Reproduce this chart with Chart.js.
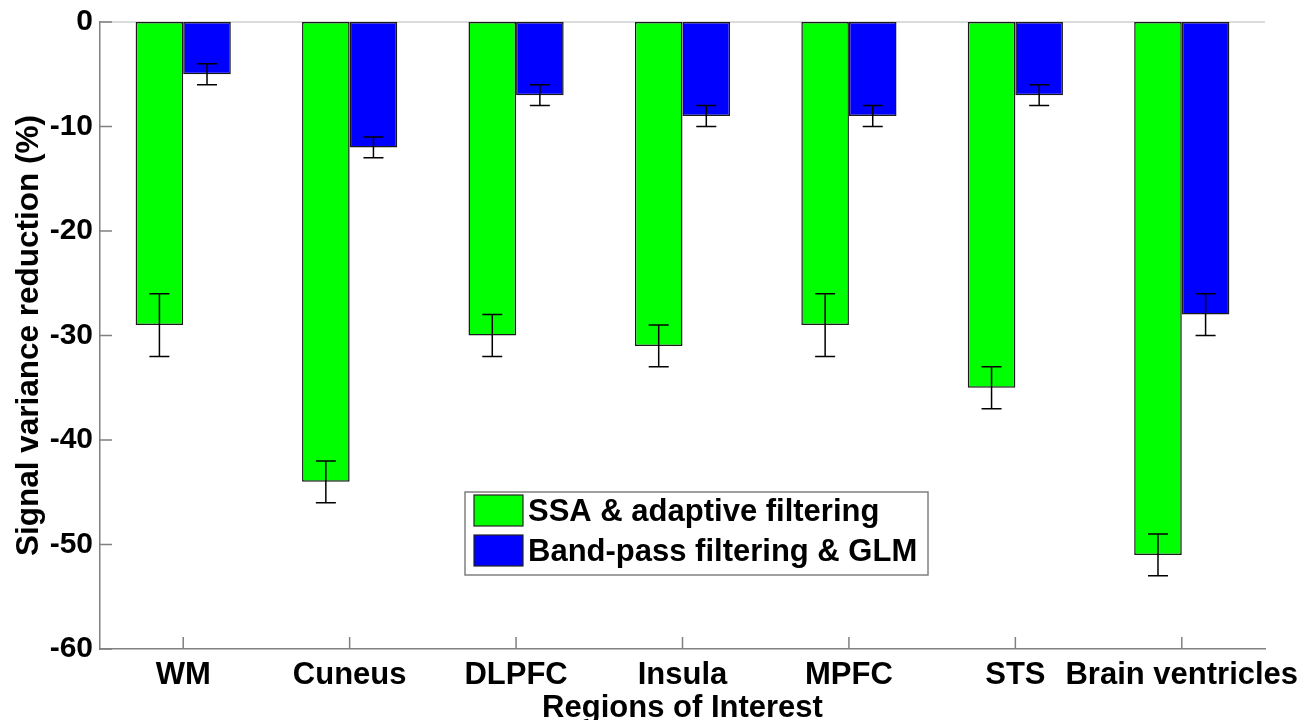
<!DOCTYPE html>
<html>
<head>
<meta charset="utf-8">
<title>Signal variance reduction</title>
<script src="https://cdn.jsdelivr.net/npm/chart.js@4.4.1/dist/chart.umd.min.js"></script>
<style>
  html, body { margin: 0; padding: 0; background: #fff; }
  #wrap { width: 1315px; height: 720px; position: relative; }
</style>
</head>
<body>
<div id="wrap"><canvas id="chart" width="1315" height="720"></canvas></div>
<script>
"use strict";

// data
const regions = ["WM", "Cuneus", "DLPFC", "Insula", "MPFC", "STS", "Brain ventricles"];
const ssaValues = [-29, -44, -30, -31, -29, -35, -51];
const ssaErrors = [3, 2, 2, 2, 3, 2, 2];
const bandValues = [-5, -12, -7, -9, -9, -7, -28];
const bandErrors = [1, 1, 1, 1, 1, 1, 2];
const yTicks = [0, -10, -20, -30, -40, -50, -60];

const FONT = "'Liberation Sans', Arial, sans-serif";
const AXIS_GREY = "#808080";

// error bars drawn at each bar's x through the y scale
const errorBars = {
  id: "errorBars",
  afterDatasetsDraw(chart) {
    const { ctx } = chart;
    const y = chart.scales.y;
    ctx.save();
    ctx.strokeStyle = "#000";
    ctx.lineWidth = 1.5;
    chart.data.datasets.forEach((ds, di) => {
      const meta = chart.getDatasetMeta(di);
      meta.data.forEach((bar, i) => {
        const v = ds.data[i], e = ds.errors[i];
        const y1 = y.getPixelForValue(v + e);
        const y2 = y.getPixelForValue(v - e);
        const cap = 10;
        ctx.beginPath();
        ctx.moveTo(bar.x, y1); ctx.lineTo(bar.x, y2);
        ctx.moveTo(bar.x - cap, y1); ctx.lineTo(bar.x + cap, y1);
        ctx.moveTo(bar.x - cap, y2); ctx.lineTo(bar.x + cap, y2);
        ctx.stroke();
      });
    });
    ctx.restore();
  },
};

// zero baseline + inward tick marks, MATLAB style
const axesDecor = {
  id: "axesDecor",
  beforeDatasetsDraw(chart) {
    const { ctx, chartArea } = chart;
    const x = chart.scales.x, y = chart.scales.y;
    ctx.save();
    const y0 = y.getPixelForValue(0);
    ctx.strokeStyle = "#cfcfcf";
    ctx.lineWidth = 1.5;
    ctx.beginPath();
    ctx.moveTo(chartArea.left, y0); ctx.lineTo(chartArea.right, y0);
    ctx.stroke();

    ctx.strokeStyle = AXIS_GREY;
    ctx.beginPath();
    y.ticks.forEach(t => {
      const py = y.getPixelForValue(t.value);
      ctx.moveTo(chartArea.left, py); ctx.lineTo(chartArea.left + 12, py);
    });
    regions.forEach((r, i) => {
      const px = x.getPixelForValue(i);
      ctx.moveTo(px, chartArea.bottom); ctx.lineTo(px, chartArea.bottom - 12);
    });
    ctx.stroke();
    ctx.restore();
  },
};

// boxed legend sitting inside the plot area
const boxLegend = {
  id: "boxLegend",
  afterDraw(chart) {
    const { ctx, chartArea } = chart;
    const bx = chartArea.left + 365, by = chartArea.top + 470;
    const bw = 463, bh = 83;
    ctx.save();
    ctx.fillStyle = "#fff";
    ctx.fillRect(bx, by, bw, bh);
    ctx.strokeStyle = AXIS_GREY;
    ctx.lineWidth = 1.5;
    ctx.strokeRect(bx, by, bw, bh);
    ctx.font = "bold 31px " + FONT;
    ctx.textBaseline = "middle";
    chart.data.datasets.forEach((ds, i) => {
      const ry = by + 3 + i * 40;
      ctx.fillStyle = ds.backgroundColor;
      ctx.fillRect(bx + 9, ry, 49, 31);
      ctx.strokeStyle = "#222";
      ctx.lineWidth = 1.2;
      ctx.strokeRect(bx + 9, ry, 49, 31);
      ctx.fillStyle = "#000";
      ctx.fillText(ds.label, bx + 63, ry + 17);
    });
    ctx.restore();
  },
};

new Chart(document.getElementById("chart"), {
  type: "bar",
  data: {
    labels: regions,
    datasets: [
      {
        label: "SSA & adaptive filtering",
        data: ssaValues,
        errors: ssaErrors,
        backgroundColor: "#00ff00",
        borderColor: "#1a1a1a",
        borderWidth: 1.5,
        borderSkipped: false,
      },
      {
        label: "Band-pass filtering & GLM",
        data: bandValues,
        errors: bandErrors,
        backgroundColor: "#0000ff",
        borderColor: "#1a1a1a",
        borderWidth: 1.5,
        borderSkipped: false,
      },
    ],
  },
  options: {
    responsive: false,
    animation: false,
    datasets: { bar: { categoryPercentage: 0.572, barPercentage: 1.0 } },
    layout: { padding: { top: 22, right: 50, left: 0, bottom: 0 } },
    plugins: { legend: { display: false }, tooltip: { enabled: false } },
    scales: {
      x: {
        grid: { display: false, drawTicks: false },
        border: { display: true, color: AXIS_GREY, width: 1.5 },
        ticks: { color: "#000", padding: 9, maxRotation: 0, autoSkip: false,
                 font: { family: FONT, size: 31, weight: "bold", lineHeight: 1.1 } },
        title: { display: true, text: "Regions of Interest", color: "#000",
                 padding: { top: 0, bottom: -7 },
                 font: { family: FONT, size: 31, weight: "bold" } },
        afterFit(s) { s.height = 71; },
      },
      y: {
        min: -60, max: 0,
        afterBuildTicks(s) { s.ticks = yTicks.map(v => ({ value: v })); },
        grid: { display: false, drawTicks: false },
        border: { display: true, color: AXIS_GREY, width: 1.5 },
        ticks: { color: "#000", padding: 7,
                 font: { family: FONT, size: 30, weight: "bold", lineHeight: 1.0 } },
        title: { display: true, text: "Signal variance reduction (%)", color: "#000",
                 padding: { top: 10, bottom: 0 },
                 font: { family: FONT, size: 31.5, weight: "bold" } },
        afterFit(s) { s.width = 100; },
      },
    },
  },
  plugins: [axesDecor, errorBars, boxLegend],
});
</script>
</body>
</html>
